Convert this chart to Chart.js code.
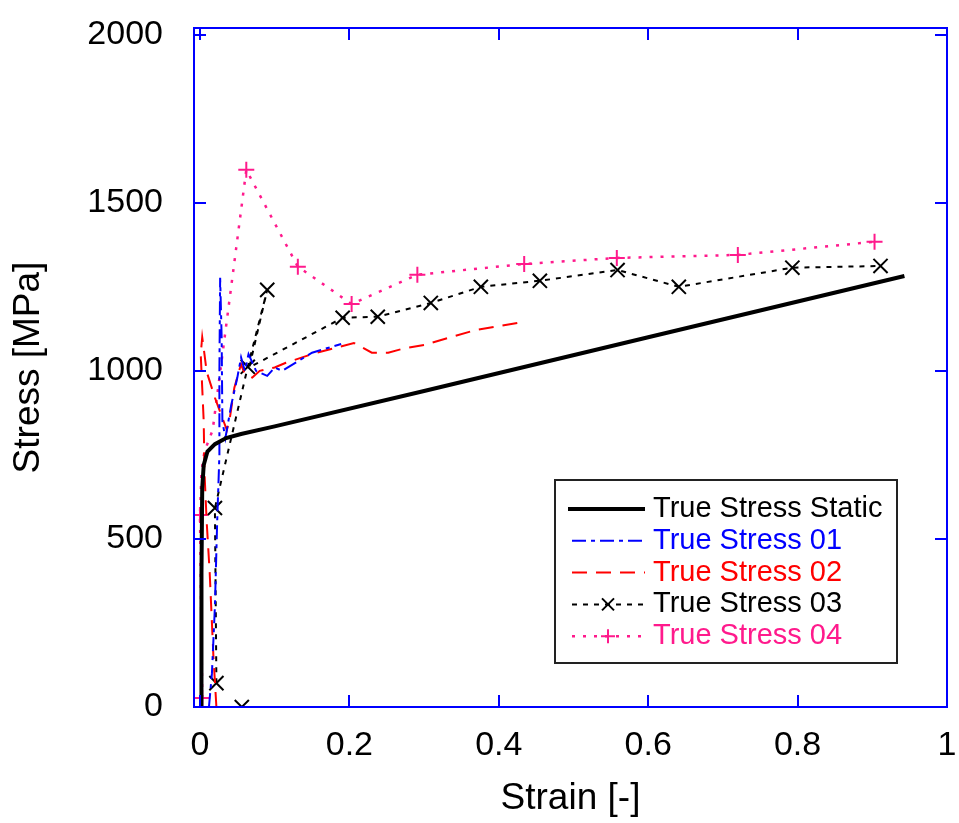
<!DOCTYPE html>
<html>
<head>
<meta charset="utf-8">
<script src="https://cdn.jsdelivr.net/npm/chart.js@4.4.0/dist/chart.umd.min.js"></script>
<style>
  html, body { margin: 0; padding: 0; background: #fff; }
  #wrap { width: 959px; height: 823px; }
</style>
</head>
<body>
<div id="wrap"><canvas id="stressChart" width="959" height="823"></canvas></div>
<script>
// Tick values
const xTicks = [0, 0.2, 0.4, 0.6, 0.8, 1];
const yTicks = [0, 500, 1000, 1500, 2000];

// True Stress Static
const staticStrain = [0.002, 0.002, 0.003, 0.005, 0.010, 0.020, 0.035, 0.055, 0.100, 0.300, 0.600, 0.943];
const staticStress = [0, 400, 650, 720, 760, 782, 800, 812, 835, 940, 1100, 1282];

// True Stress 01
const s01Strain = [0.012, 0.016, 0.020, 0.023, 0.026, 0.026, 0.027, 0.029, 0.030, 0.034, 0.042, 0.050, 0.055, 0.060, 0.065, 0.075, 0.090, 0.100, 0.110, 0.150, 0.189];
const s01Stress = [0, 100, 300, 550, 750, 1000, 1277, 1100, 850, 800, 900, 980, 1040, 1000, 1050, 1000, 985, 1010, 1000, 1054, 1080];

// True Stress 02
const s02Strain = [0.022, 0.018, 0.013, 0.009, 0.006, 0.005, 0.003, 0.001, 0.003, 0.006, 0.009, 0.020, 0.036, 0.040, 0.046, 0.055, 0.060, 0.070, 0.080, 0.100, 0.115, 0.150, 0.186, 0.206, 0.230, 0.252, 0.275, 0.300, 0.370, 0.434];
const s02Stress = [0, 150, 400, 550, 700, 850, 950, 1050, 1100, 1050, 997, 920, 824, 860, 950, 1020, 990, 980, 1000, 1010, 1024, 1050, 1071, 1083, 1054, 1054, 1068, 1077, 1122, 1146];

// True Stress 03 (null = gap in the line)
const s03Strain = [0.056, 0.040, 0.022, 0.020, 0.064, 0.090, 0.066, 0.191, 0.238, 0.309, 0.376, 0.455, 0.559, 0.641, 0.793, 0.911];
const s03Stress = [0, null, 71, 592, 1012, 1241, 1010, 1158, 1161, 1202, 1250, 1268, 1300, 1250, 1307, 1312];
const s03Marks = [true, false, true, true, true, true, false, true, true, true, true, true, true, true, true, true];

// True Stress 04
const s04Strain = [0.003, 0.000, 0.002, 0.006, 0.017, 0.062, 0.131, 0.203, 0.291, 0.434, 0.558, 0.720, 0.903];
const s04Stress = [27, 571, 700, 760, 824, 1598, 1310, 1199, 1286, 1318, 1336, 1345, 1384];
const s04Marks = [true, true, false, false, false, true, true, true, true, true, true, true, true];

const seriesLabels = ['True Stress Static', 'True Stress 01', 'True Stress 02', 'True Stress 03', 'True Stress 04'];
const seriesColors = ['#000000', '#0000ff', '#ff0000', '#000000', '#ff1a8c'];

function toPoints(xs, ys) {
    return xs.map((x, i) => ({ x: x, y: ys[i] }));
}

const FONT = '"Liberation Sans", Arial, sans-serif';

// Frame with inward ticks on all four sides, plus the legend box
const framePlugin = {
    id: 'frame',
    afterDatasetsDraw(chart) {
        const ctx = chart.ctx;
        const a = chart.chartArea;
        const xs = chart.scales.x;
        const ys = chart.scales.y;
        const tl = 12;
        ctx.save();
        ctx.strokeStyle = '#0000ff';
        ctx.lineWidth = 2;
        ctx.setLineDash([]);
        ctx.strokeRect(a.left, a.top, a.right - a.left, a.bottom - a.top);
        ctx.beginPath();
        xTicks.forEach(v => {
            const px = Math.round(xs.getPixelForValue(v));
            ctx.moveTo(px, a.bottom); ctx.lineTo(px, a.bottom - tl);
            ctx.moveTo(px, a.top); ctx.lineTo(px, a.top + tl);
        });
        yTicks.forEach(v => {
            const py = Math.round(ys.getPixelForValue(v));
            ctx.moveTo(a.left, py); ctx.lineTo(a.left + tl, py);
            ctx.moveTo(a.right, py); ctx.lineTo(a.right - tl, py);
        });
        ctx.stroke();

        // legend
        const bx = 555, by = 480, bw = 342, bh = 183;
        ctx.fillStyle = '#ffffff';
        ctx.fillRect(bx, by, bw, bh);
        ctx.strokeStyle = '#222222';
        ctx.lineWidth = 2;
        ctx.strokeRect(bx, by, bw, bh);
        ctx.font = '29px ' + FONT;
        ctx.textBaseline = 'middle';
        ctx.textAlign = 'left';
        chart.data.datasets.forEach((ds, i) => {
            const ry = 509 + i * 31.8;
            ctx.strokeStyle = ds.borderColor;
            ctx.lineWidth = ds.borderWidth;
            ctx.setLineDash(ds.borderDash || []);
            ctx.beginPath();
            ctx.moveTo(i === 0 ? 568 : 572, ry);
            ctx.lineTo(645, ry);
            ctx.stroke();
            ctx.setLineDash([]);
            if (ds.pointStyle === 'crossRot' || ds.pointStyle === 'cross') {
                const cx = 608, r = 7;
                ctx.lineWidth = 2;
                ctx.beginPath();
                if (ds.pointStyle === 'cross') {
                    ctx.moveTo(cx - r, ry); ctx.lineTo(cx + r, ry);
                    ctx.moveTo(cx, ry - r); ctx.lineTo(cx, ry + r);
                } else {
                    ctx.moveTo(cx - 6, ry - 6); ctx.lineTo(cx + 6, ry + 6);
                    ctx.moveTo(cx - 6, ry + 6); ctx.lineTo(cx + 6, ry - 6);
                }
                ctx.stroke();
            }
            ctx.fillStyle = seriesColors[i];
            ctx.fillText(seriesLabels[i], 653, ry);
        });
        ctx.restore();
    }
};

const ctx = document.getElementById('stressChart').getContext('2d');
const stressChart = new Chart(ctx, {
    type: 'scatter',
    data: {
        datasets: [
            {
                label: seriesLabels[0],
                data: toPoints(staticStrain, staticStress),
                showLine: true,
                borderColor: seriesColors[0],
                borderWidth: 4,
                pointRadius: 0,
                tension: 0
            },
            {
                label: seriesLabels[1],
                data: toPoints(s01Strain, s01Stress),
                showLine: true,
                borderColor: seriesColors[1],
                borderWidth: 2,
                borderDash: [14, 5, 4, 5],
                pointRadius: 0
            },
            {
                label: seriesLabels[2],
                data: toPoints(s02Strain, s02Stress),
                showLine: true,
                borderColor: seriesColors[2],
                borderWidth: 2,
                borderDash: [15, 9],
                pointRadius: 0
            },
            {
                label: seriesLabels[3],
                data: toPoints(s03Strain, s03Stress),
                showLine: true,
                spanGaps: false,
                borderColor: seriesColors[3],
                borderWidth: 2,
                borderDash: [5, 6],
                pointStyle: 'crossRot',
                pointRadius: s03Marks.map(m => m ? 10 : 0),
                pointBorderWidth: 2,
                pointBorderColor: seriesColors[3]
            },
            {
                label: seriesLabels[4],
                data: toPoints(s04Strain, s04Stress),
                showLine: true,
                borderColor: seriesColors[4],
                borderWidth: 2.5,
                borderDash: [3, 8],
                pointStyle: 'cross',
                pointRadius: s04Marks.map(m => m ? 8 : 0),
                pointBorderWidth: 2,
                pointBorderColor: seriesColors[4]
            }
        ]
    },
    options: {
        responsive: false,
        animation: false,
        devicePixelRatio: 1,
        layout: { padding: { top: 28, right: 6, left: 0, bottom: 0 } },
        plugins: {
            legend: { display: false },
            tooltip: { enabled: false }
        },
        scales: {
            x: {
                type: 'linear',
                min: -0.008,
                max: 1,
                afterBuildTicks: scale => { scale.ticks = xTicks.map(v => ({ value: v })); },
                afterFit: scale => { scale.height = 116; scale.paddingLeft = 0; scale.paddingRight = 0; },
                grid: { display: false },
                border: { display: false },
                ticks: {
                    color: '#000',
                    font: { family: FONT, size: 34 },
                    padding: 10,
                    maxRotation: 0,
                    callback: v => String(v)
                },
                title: {
                    display: true,
                    text: 'Strain [-]',
                    color: '#000',
                    font: { family: FONT, size: 37 },
                    padding: { top: 0, bottom: 2 }
                }
            },
            y: {
                type: 'linear',
                min: 0,
                max: 2020,
                afterBuildTicks: scale => { scale.ticks = yTicks.map(v => ({ value: v })); },
                afterFit: scale => { scale.width = 194; scale.paddingTop = 0; scale.paddingBottom = 0; },
                grid: { display: false },
                border: { display: false },
                ticks: {
                    color: '#000',
                    font: { family: FONT, size: 34 },
                    padding: 23,
                    callback: v => String(v)
                },
                title: {
                    display: true,
                    text: 'Stress [MPa]',
                    color: '#000',
                    font: { family: FONT, size: 37 },
                    padding: { top: 7, bottom: 0 }
                }
            }
        }
    },
    plugins: [framePlugin]
});
</script>
</body>
</html>
